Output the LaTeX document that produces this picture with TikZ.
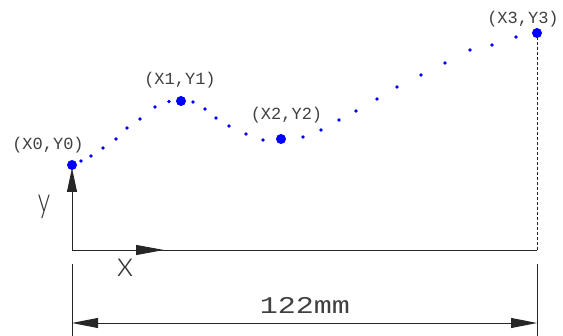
\documentclass[tikz,border=0pt]{standalone}
\usepackage{fontspec}
\setmainfont{Liberation Mono}
\newfontfamily\lightfont{Lato Light}
\usetikzlibrary{arrows.meta}
\begin{document}
\begin{tikzpicture}[x=1pt,y=-1pt,
  ln/.style={draw=black!85,line width=0.9pt},
  tip/.style={-{Triangle[length=#1,width=10pt]}},
  lbl/.style={font=\fontsize{17}{17}\selectfont,text=black!75,inner sep=0pt},
  axlbl/.style={font=\fontsize{35}{35}\selectfont\lightfont,text=black!80,inner sep=0pt},
  big/.style={fill=blue},
  small/.style={fill=blue}]
\useasboundingbox (0,0) rectangle (563,336);
% points
\coordinate (p0) at (72,165);
\coordinate (p1) at (181,101);
\coordinate (p2) at (281,139);
\coordinate (p3) at (537,33);
\coordinate (o) at (72,250);
\coordinate (xe) at (537,250);
\coordinate (xa) at (164,250);
\coordinate (ya) at (72,168);
% axes
\draw[ln] (o) -- (xe);
\draw[ln,tip=28pt] (o) -- (xa);
\draw[ln,tip=24pt] (o) -- (ya);
\draw[ln,dashed,dash pattern=on 3pt off 2pt] (xe) -- (p3);
% dimension
\coordinate (e1a) at (72,264); \coordinate (e1b) at (72,336);
\coordinate (e2a) at (537,264); \coordinate (e2b) at (537,336);
\draw[ln] (e1a) -- (e1b);
\draw[ln] (e2a) -- (e2b);
\coordinate (d1) at (72,323); \coordinate (d2) at (537,323);
\draw[ln,{Triangle[length=26pt,width=10pt]}-{Triangle[length=26pt,width=10pt]}] (d1) -- (d2);
\node[lbl,font=\fontsize{24}{24}\selectfont,xscale=1.25] (dim) at (305,305) {122mm};
\node[axlbl,xscale=0.7] (ylab) at (44,207) {y};
\node[axlbl] (xlab) at (125,268) {x};
% curve dots
\foreach \px/\py in {81/161,91/156,103/148,116/139,127/128,140/119,155/107,169/101.5,
  193/102,205/109,216/118,229/126,246/134,263/140,
  303/137,321/130,339/120,356/111,377/99,397/87,421/75,445/63,470/50,492/45,516/37}
  \fill[small] (\px,\py) circle (1.8pt);
\foreach \p in {p0,p1,p2,p3} \fill[big] (\p) circle (5pt);
% labels
\node[lbl] (l0) at (48,145.5) {(X0,Y0)};
\node[lbl] (l1) at (180,80.5) {(X1,Y1)};
\node[lbl] (l2) at (286.5,115.5) {(X2,Y2)};
\node[lbl] (l3) at (523,19) {(X3,Y3)};
\end{tikzpicture}
\end{document}
